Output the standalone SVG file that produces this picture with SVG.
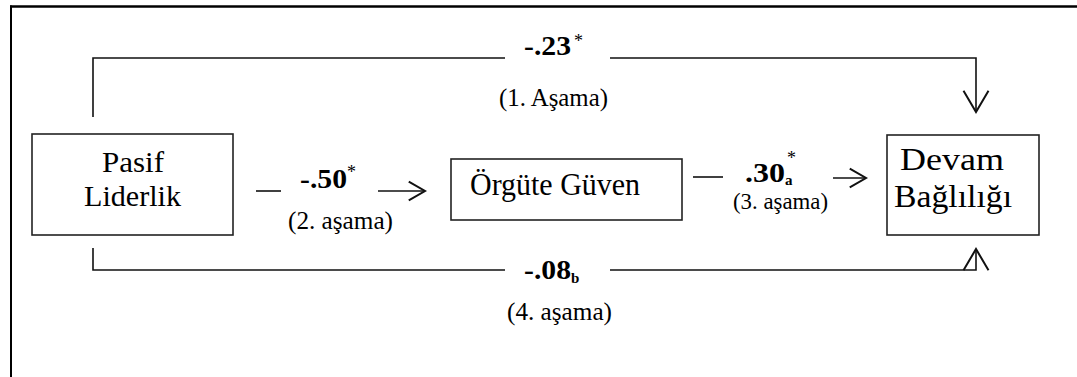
<svg xmlns="http://www.w3.org/2000/svg" width="1077" height="377" viewBox="0 0 1077 377">
<style>
.node rect{fill:#fff;stroke:#222;stroke-width:1.6}
.nt{font-family:"Liberation Serif","Times New Roman",serif;fill:#000;text-anchor:start}
.lb{font-family:"Liberation Serif","Times New Roman",serif;fill:#000;font-weight:bold}
.st{font-family:"Liberation Serif","Times New Roman",serif;fill:#000}
.ln{stroke:#111;stroke-width:1.6;fill:none}
</style>
<defs>
<marker id="ah" markerUnits="userSpaceOnUse" markerWidth="30" markerHeight="30" viewBox="-20 -12 24 24" refX="0" refY="0" orient="auto" overflow="visible">
<path d="M-13,-7.5 L0,0 L-13,7.5" fill="none" stroke="#111" stroke-width="1.6"/>
</marker>
<marker id="ahl" markerUnits="userSpaceOnUse" markerWidth="30" markerHeight="30" viewBox="-20 -12 24 24" refX="0" refY="0" orient="auto" overflow="visible">
<path d="M-17,-10 L0,0 L-17,10" fill="none" stroke="#111" stroke-width="1.6"/>
</marker>
</defs>
<rect width="1077" height="377" fill="#fff"/>
<g id="frame">
<line x1="10" y1="6.5" x2="1077" y2="6.5" stroke="#000" stroke-width="2.5"/>
<line x1="11" y1="5.5" x2="11" y2="377" stroke="#000" stroke-width="2"/>
</g>
<g id="connectors">
<path class="ln" d="M93,117 V58 H505"/>
<path class="ln" d="M610,58 H976 V112" marker-end="url(#ahl)"/>
<path class="ln" d="M93,248 V270 H505"/>
<path class="ln" d="M610,270 H976 V249" marker-end="url(#ahl)"/>
<line class="ln" x1="256" y1="191" x2="281" y2="191"/>
<line class="ln" x1="378" y1="191" x2="425" y2="191" marker-end="url(#ah)"/>
<line class="ln" x1="693" y1="177" x2="723" y2="177"/>
<line class="ln" x1="833" y1="178" x2="866" y2="178" marker-end="url(#ah)"/>
</g>
<g id="labels">
<text class="lb" x="524" y="55" font-size="27" textLength="47" lengthAdjust="spacingAndGlyphs">-.23</text>
<text class="st" x="574" y="47" font-size="18">*</text>
<text class="st" x="499" y="106" font-size="25" textLength="109" lengthAdjust="spacingAndGlyphs">(1. Aşama)</text>
<text class="lb" x="300" y="188" font-size="27" textLength="47" lengthAdjust="spacingAndGlyphs">-.50</text>
<text class="st" x="347" y="178" font-size="18">*</text>
<text class="st" x="288" y="229" font-size="26" textLength="105" lengthAdjust="spacingAndGlyphs">(2. aşama)</text>
<text class="lb" x="745" y="182" font-size="27" textLength="40" lengthAdjust="spacingAndGlyphs">.30</text>
<text class="lb" x="785" y="185" font-size="15">a</text>
<text class="st" x="787" y="164" font-size="18">*</text>
<text class="st" x="733" y="209" font-size="24" textLength="95" lengthAdjust="spacingAndGlyphs">(3. aşama)</text>
<text class="lb" x="524" y="279" font-size="27" textLength="47" lengthAdjust="spacingAndGlyphs">-.08</text>
<text class="lb" x="571" y="283" font-size="15">b</text>
<text class="st" x="507" y="320" font-size="25" textLength="105" lengthAdjust="spacingAndGlyphs">(4. aşama)</text>
</g>
<g id="pasif" class="node">
<rect x="32" y="134" width="201" height="101"/>
<text class="nt" x="102" y="172" font-size="30" textLength="62" lengthAdjust="spacingAndGlyphs">Pasif</text>
<text class="nt" x="84" y="206" font-size="30" textLength="97" lengthAdjust="spacingAndGlyphs">Liderlik</text>
</g>
<g id="orgute" class="node">
<rect x="451" y="159" width="231" height="61"/>
<text class="nt" x="470" y="195" font-size="31" textLength="170" lengthAdjust="spacingAndGlyphs">Örgüte Güven</text>
</g>
<g id="devam" class="node">
<rect x="887" y="135" width="152" height="100"/>
<text class="nt" x="900" y="170" font-size="31" textLength="104" lengthAdjust="spacingAndGlyphs">Devam</text>
<text class="nt" x="894" y="207" font-size="31" textLength="118" lengthAdjust="spacingAndGlyphs">Bağlılığı</text>
</g>
</svg>
